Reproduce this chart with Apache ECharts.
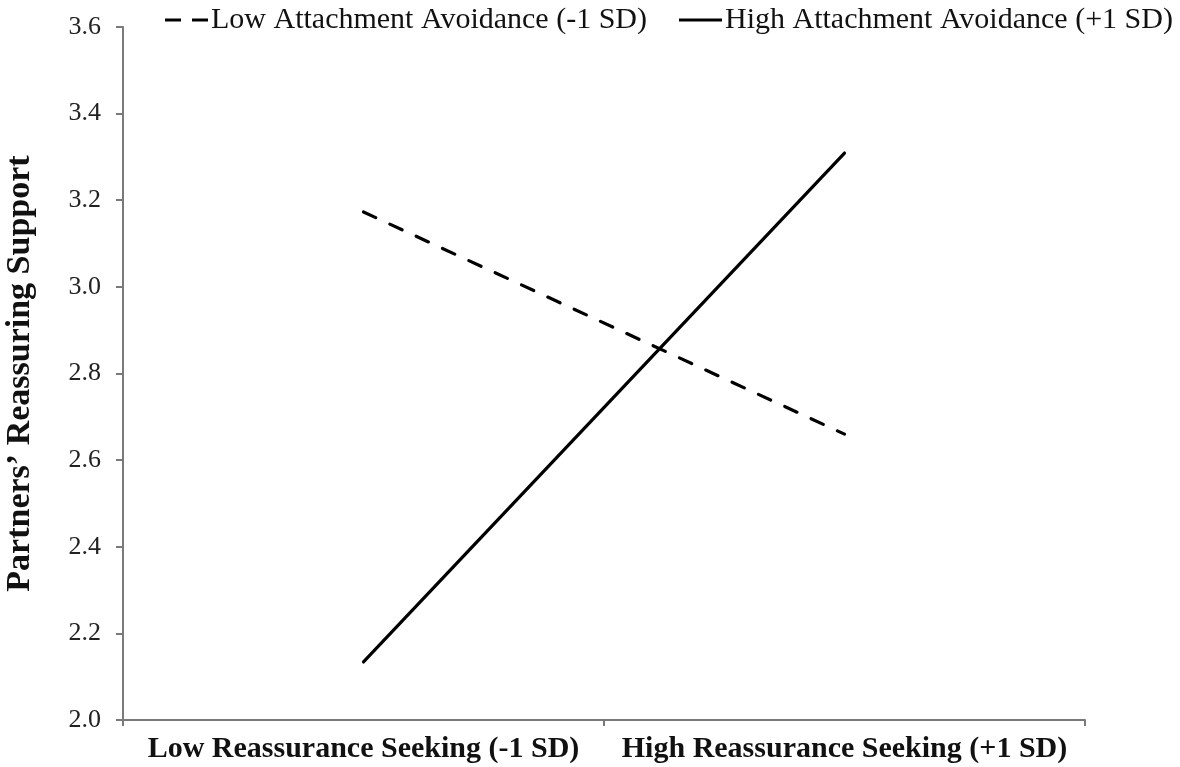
<!DOCTYPE html>
<html><head><meta charset="utf-8">
<script src="https://cdn.jsdelivr.net/npm/echarts@6/dist/echarts.min.js"></script>
<style>html,body{margin:0;padding:0;background:#fff}#c{width:1180px;height:767px}</style>
</head><body><div id="c"></div>
<script>
const categories = ['Low Reassurance Seeking (-1 SD)', 'High Reassurance Seeking (+1 SD)'];
const seriesNames = ['Low Attachment Avoidance (-1 SD)', 'High Attachment Avoidance (+1 SD)'];
const lowAvoidance = [3.173, 2.66];
const highAvoidance = [2.134, 3.309];
const yTicks = {min: 2.0, max: 3.6, interval: 0.2};

const font = '"Liberation Serif", "Times New Roman", serif';
const chart = echarts.init(document.getElementById('c'));
chart.setOption({
  animation: false,
  backgroundColor: '#fff',
  textStyle: {fontFamily: font},
  grid: {left: 123, right: 95, top: 27, bottom: 47, containLabel: false, outerBoundsMode: 'none'},
  legend: {
    top: 0, left: 160, itemWidth: 43, itemHeight: 14, itemGap: 32,
    textStyle: {fontFamily: font, fontSize: 30, color: '#111', padding: [0, 0, 0, -2]},
    data: [
      {name: seriesNames[0], icon: 'path://M0,0 H16 V3 H0 Z M27,0 H43 V3 H27 Z', itemStyle: {color: '#000'}},
      {name: seriesNames[1], icon: 'path://M0,0 H43 V3 H0 Z', itemStyle: {color: '#000'}}
    ]
  },
  xAxis: {
    type: 'category', data: categories, boundaryGap: true,
    axisLine: {lineStyle: {color: '#7a7a7a', width: 2}},
    axisTick: {show: true, length: 6, lineStyle: {color: '#7a7a7a', width: 2}},
    axisLabel: {fontFamily: font, fontSize: 30, fontWeight: 'bold', color: '#111', margin: 14, interval: 0, hideOverlap: false}
  },
  yAxis: {
    type: 'value', min: yTicks.min, max: yTicks.max, interval: yTicks.interval,
    name: "Partners\u2019 Reassuring Support", nameLocation: 'middle', nameGap: 86, nameRotate: 90,
    nameTextStyle: {fontFamily: font, fontSize: 34, fontWeight: 'bold', color: '#111'},
    axisLine: {show: true, lineStyle: {color: '#7a7a7a', width: 2}},
    axisTick: {show: true, length: 7, lineStyle: {color: '#7a7a7a', width: 2}},
    splitLine: {show: false},
    axisLabel: {fontFamily: font, fontSize: 26, color: '#222', margin: 22, formatter: v => v.toFixed(1)}
  },
  series: [
    {name: seriesNames[0], type: 'line', data: lowAvoidance, symbol: 'none',
     lineStyle: {color: '#000', width: 3.2, type: [13.5, 15.5], cap: 'round'}},
    {name: seriesNames[1], type: 'line', data: highAvoidance, symbol: 'none',
     lineStyle: {color: '#000', width: 3.2, type: 'solid', cap: 'round'}}
  ]
});
</script></body></html>
